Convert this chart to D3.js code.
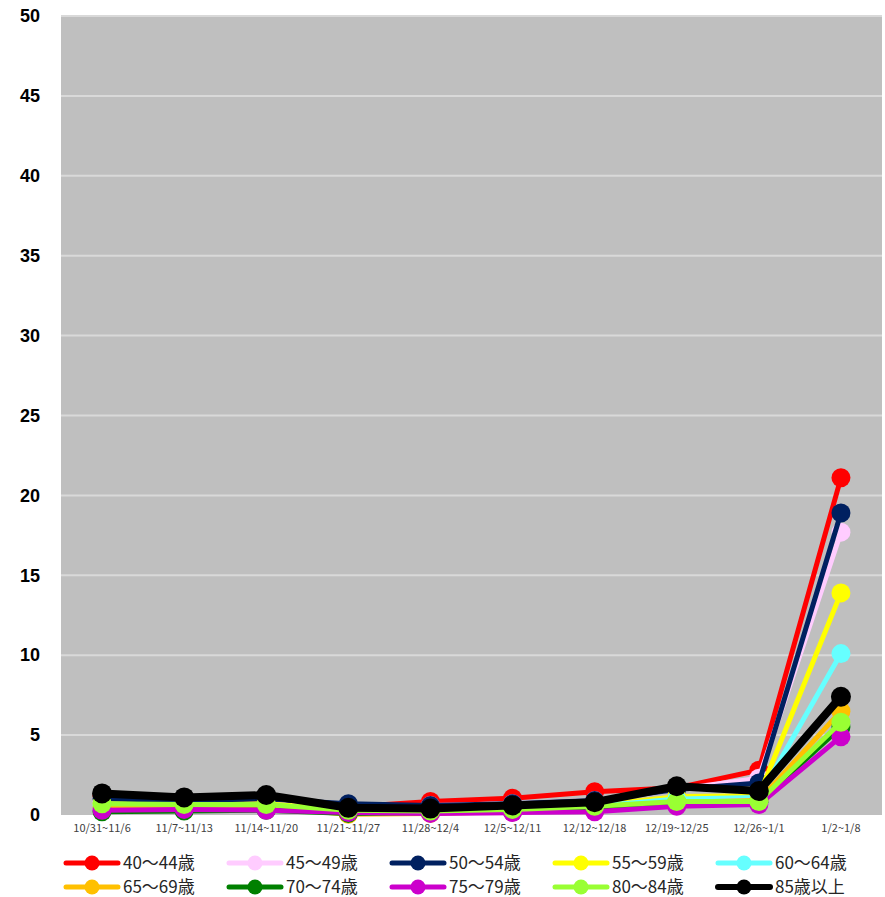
<!DOCTYPE html>
<html>
<head>
<meta charset="utf-8">
<style>
  body { margin: 0; background: #fff; }
  svg { display: block; }
</style>
</head>
<body>
<svg id="plot"></svg>
<script src="https://d3js.org/d3.v7.min.js"></script>
<script>
// week labels along the bottom
var weeks = ["10/31~11/6", "11/7~11/13", "11/14~11/20", "11/21~11/27", "11/28~12/4",
             "12/5~12/11", "12/12~12/18", "12/19~12/25", "12/26~1/1", "1/2~1/8"];

var groupNames = ["40～44歳", "45～49歳", "50～54歳", "55～59歳", "60～64歳",
                  "65～69歳", "70～74歳", "75～79歳", "80～84歳", "85歳以上"];

var groupColors = ["#ff0000", "#ffccff", "#002060", "#ffff00", "#66ffff",
                   "#ffc000", "#008000", "#cc00cc", "#99ff33", "#000000"];

// values per age group, one per week
var v40 = [1.2, 1.0, 1.1, 0.5, 0.85, 1.05, 1.45, 1.7, 2.8, 21.1];
var v45 = [0.9, 0.8, 0.9, 0.55, 0.6, 0.7, 0.9, 1.6, 2.3, 17.7];
var v50 = [1.0, 0.9, 1.0, 0.7, 0.6, 0.7, 0.9, 1.6, 2.0, 18.9];
var v55 = [0.7, 0.6, 0.7, 0.3, 0.35, 0.45, 0.6, 1.15, 1.2, 13.9];
var v60 = [0.6, 0.6, 0.6, 0.3, 0.3, 0.4, 0.55, 1.0, 1.1, 10.1];
var v65 = [0.5, 0.5, 0.5, 0.05, 0.1, 0.2, 0.4, 0.8, 0.9, 6.5];
var v70 = [0.2, 0.25, 0.3, 0.1, 0.15, 0.2, 0.3, 0.7, 0.8, 5.5];
var v75 = [0.3, 0.35, 0.3, 0.15, 0.1, 0.15, 0.2, 0.55, 0.65, 4.9];
var v80 = [0.7, 0.65, 0.65, 0.3, 0.25, 0.35, 0.55, 0.85, 0.85, 5.8];
var v85 = [1.35, 1.1, 1.25, 0.45, 0.4, 0.6, 0.8, 1.8, 1.5, 7.4];

var allValues = [v40, v45, v50, v55, v60, v65, v70, v75, v80, v85];

var yTicks = [0, 5, 10, 15, 20, 25, 30, 35, 40, 45, 50];

var screen = {width: 885, height: 897};
var margins = {top: 16, left: 61, right: 3, bottom: 82};
var graph = {
    width: screen.width - margins.left - margins.right,
    height: screen.height - margins.top - margins.bottom
};

var svg = d3.select("#plot")
    .attr("width", screen.width)
    .attr("height", screen.height);

var xScale = d3.scaleBand()
    .domain(weeks)
    .range([0, graph.width]);

var yScale = d3.scaleLinear()
    .domain([0, 50])
    .range([graph.height, 0]);

var g = svg.append("g")
    .attr("transform", "translate(" + margins.left + "," + margins.top + ")");

// plot background
g.append("rect")
    .attr("width", graph.width)
    .attr("height", graph.height)
    .attr("fill", "#bfbfbf");

// gridlines
g.selectAll(".grid")
    .data(yTicks.filter(function(t) { return t > 0; }))
    .enter()
    .append("line")
    .attr("x1", 0)
    .attr("x2", graph.width)
    .attr("y1", function(t) { return yScale(t); })
    .attr("y2", function(t) { return yScale(t); })
    .attr("stroke", "#d9d9d9")
    .attr("stroke-width", 2);

// y axis labels
var yAxis = d3.axisLeft(yScale).tickValues(yTicks).tickSize(0).tickPadding(21);
var yG = g.append("g").call(yAxis);
yG.select(".domain").remove();
yG.selectAll("text")
    .attr("font-family", "'Liberation Sans', Arial, sans-serif")
    .attr("font-weight", "bold")
    .attr("font-size", 18)
    .attr("fill", "#000");

// x axis labels
var xAxis = d3.axisBottom(xScale).tickSize(0).tickPadding(9);
var xG = g.append("g")
    .attr("transform", "translate(0," + graph.height + ")")
    .call(xAxis);
xG.select(".domain").remove();
xG.selectAll("text")
    .attr("font-family", "'Noto Sans CJK JP', sans-serif")
    .attr("font-size", 11)
    .attr("fill", "#404040");

var line = d3.line()
    .x(function(d, i) { return xScale(weeks[i]) + xScale.bandwidth() / 2; })
    .y(function(d) { return yScale(d); });

// series, black drawn last
allValues.forEach(function(vals, k) {
    var s = g.append("g");
    var isBlack = k === allValues.length - 1;
    s.append("path")
        .datum(vals)
        .attr("d", line)
        .attr("fill", "none")
        .attr("stroke", groupColors[k])
        .attr("stroke-width", isBlack ? 8 : 5)
        .attr("stroke-linejoin", "round");
    s.selectAll("circle")
        .data(vals)
        .enter()
        .append("circle")
        .attr("cx", function(d, i) { return xScale(weeks[i]) + xScale.bandwidth() / 2; })
        .attr("cy", function(d) { return yScale(d); })
        .attr("r", isBlack ? 10 : 9.5)
        .attr("fill", groupColors[k]);
});

// legend
var legend = svg.append("g");
groupNames.forEach(function(name, k) {
    var col = k % 5, row = Math.floor(k / 5);
    var x0 = 66 + col * 163;
    var y0 = 863 + row * 24;
    var item = legend.append("g").attr("transform", "translate(" + x0 + "," + y0 + ")");
    item.append("line")
        .attr("x1", 0).attr("x2", 52)
        .attr("y1", 0).attr("y2", 0)
        .attr("stroke", groupColors[k])
        .attr("stroke-width", k === 9 ? 6 : 5)
        .attr("stroke-linecap", "round");
    item.append("circle")
        .attr("cx", 26).attr("cy", 0)
        .attr("r", 7.5)
        .attr("fill", groupColors[k]);
    item.append("text")
        .attr("x", 57)
        .attr("y", 6)
        .attr("font-family", "'Noto Sans CJK JP', sans-serif")
        .attr("font-size", 17)
        .attr("fill", "#262626")
        .text(name);
});
</script>
</body>
</html>
